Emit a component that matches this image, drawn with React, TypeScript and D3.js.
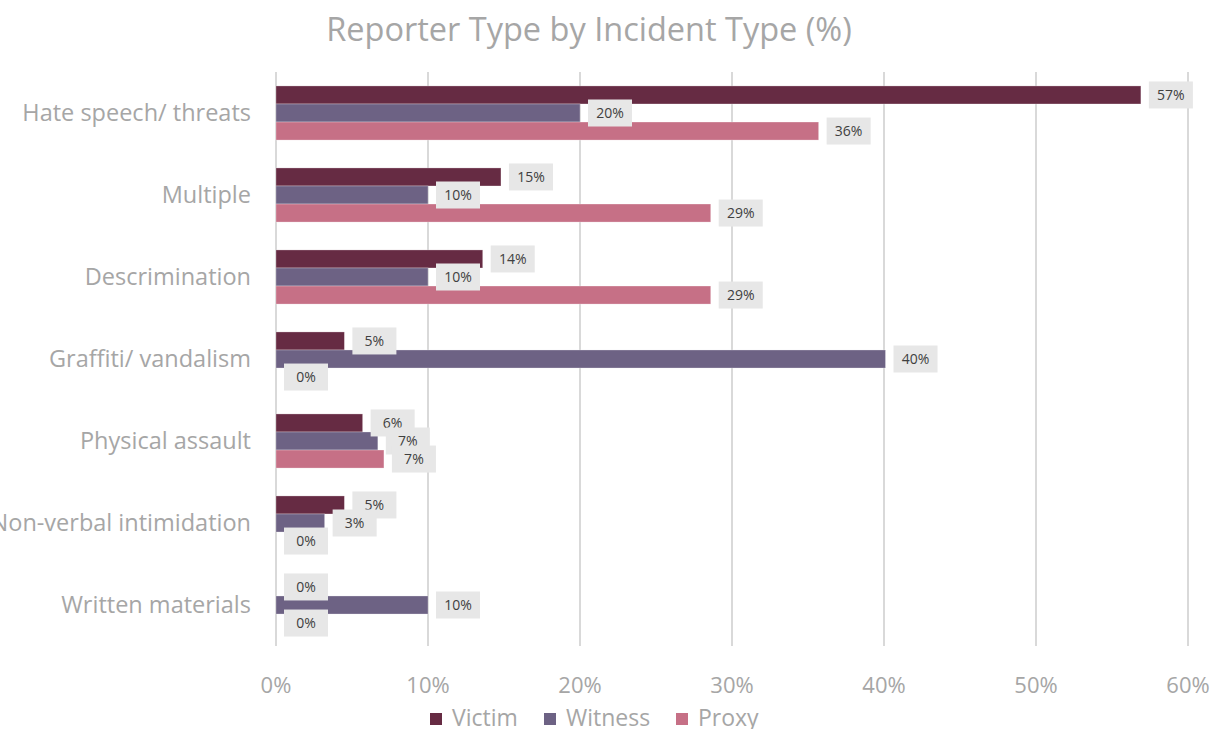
import React from "react";
import * as d3 from "d3";

const categories = [
  "Hate speech/ threats",
  "Multiple",
  "Descrimination",
  "Graffiti/ vandalism",
  "Physical assault",
  "Non-verbal intimidation",
  "Written materials",
];
const seriesNames = ["Victim", "Witness", "Proxy"];
const victim = [56.9, 14.8, 13.6, 4.5, 5.7, 4.5, 0];
const witness = [20.0, 10.0, 10.0, 40.1, 6.7, 3.2, 10.0];
const proxy = [35.7, 28.6, 28.6, 0, 7.1, 0, 0];
const xTicks = [0, 10, 20, 30, 40, 50, 60];
const colors = ["#662b43", "#6d6284", "#c67086"];

const W = 1214;
const H = 729;
const FONT = "'Open Sans', 'Liberation Sans', sans-serif";

export default function App() {
  const values = [victim, witness, proxy];
  const x = d3.scaleLinear().domain([0, 60]).range([276, 1188]);
  const y = d3
    .scaleBand<string>()
    .domain(categories)
    .range([72, 646])
    .paddingInner(0.34)
    .paddingOuter(0.17);
  const sub = d3
    .scaleBand<string>()
    .domain(seriesNames)
    .range([0, y.bandwidth()]);

  return (
    <div style={{ position: "absolute", left: 0, top: 0 }}>
      <svg width={W} height={H} style={{ display: "block" }} fontFamily={FONT}>
        <rect width={W} height={H} fill="#ffffff" />
        <text x={589} y={41} textAnchor="middle" fontSize={32.5} fill="#a6a6a6">
          Reporter Type by Incident Type (%)
        </text>
        {xTicks.map((t) => (
          <g key={t}>
            <line x1={x(t)} x2={x(t)} y1={72} y2={646} stroke="#d9d9d9" strokeWidth={2} />
            <text x={x(t)} y={693} textAnchor="middle" fontSize={22} fill="#a6a6a6">
              {t}%
            </text>
          </g>
        ))}
        {categories.map((c) => (
          <text
            key={c}
            x={251}
            y={(y(c) as number) + y.bandwidth() / 2 + 8}
            textAnchor="end"
            fontSize={23.5}
            fill="#a6a6a6"
          >
            {c}
          </text>
        ))}
        {seriesNames.map((s, si) =>
          categories.map((c, ci) => {
            const v = values[si][ci];
            const yy = (y(c) as number) + (sub(s) as number);
            return (
              <rect
                key={s + c}
                x={x(0)}
                y={yy}
                width={x(v) - x(0)}
                height={sub.bandwidth()}
                fill={colors[si]}
                stroke="#ffffff"
                strokeOpacity={0.35}
                strokeWidth={0.8}
              />
            );
          })
        )}
        {seriesNames.map((s, si) =>
          categories.map((c, ci) => {
            const v = values[si][ci];
            const cy = (y(c) as number) + (sub(s) as number) + sub.bandwidth() / 2;
            const bx = x(v) + 8;
            return (
              <g key={"l" + s + c}>
                <rect x={bx} y={cy - 13.5} width={44} height={27} fill="#e7e7e7" />
                <text x={bx + 22} y={cy + 5} textAnchor="middle" fontSize={14} fill="#404040">
                  {Math.round(v)}%
                </text>
              </g>
            );
          })
        )}
        {seriesNames.map((s, si) => {
          const lx = [430, 544, 676][si];
          return (
            <g key={"lg" + s}>
              <rect x={lx} y={713} width={12} height={12} fill={colors[si]} />
              <text x={lx + 22} y={726} fontSize={23} fill="#a6a6a6">
                {s}
              </text>
            </g>
          );
        })}
      </svg>
    </div>
  );
}
